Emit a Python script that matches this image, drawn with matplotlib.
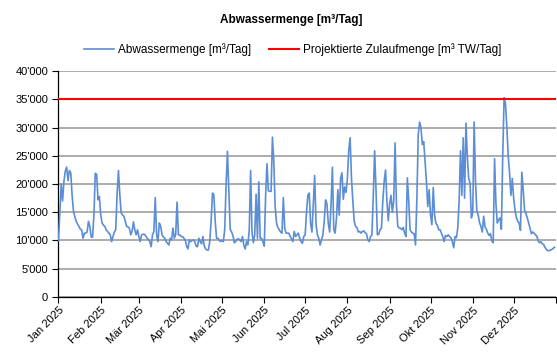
"""Tägliche Abwassermenge 2025 mit projektierter Zulaufmenge als Referenzlinie."""

import matplotlib.pyplot as plt
import pandas as pd
from matplotlib.ticker import FuncFormatter

plt.rcParams["font.family"] = ["Liberation Sans", "DejaVu Sans"]

START = "2025-01-01"

# Tageswerte Abwassermenge [m³/Tag], 1. Jan bis 31. Dez 2025
ABWASSER = [
    10000, 15000, 20000, 17000, 20500, 22300, 23000, 20600, 22400, 22000,
    18000, 15200, 14200, 13400, 12900, 12500, 12000, 11900, 10400, 11300,
    11300, 11500, 13400, 12500, 10600, 10600, 14500, 21900, 21700, 17200,
    17800, 14500, 13100, 12700, 12500, 11900, 11600, 11300, 11000, 9800,
    10700, 11500, 11900, 18100, 22400, 18100, 14900, 14500, 14300, 13400,
    12500, 12400, 12200, 11000, 11600, 13300, 11900, 11000, 11900, 10700,
    9800, 11000, 11100, 11100, 10800, 10400, 10200, 9800, 8900, 11000,
    11600, 17600, 11000, 9800, 13100, 12500, 11000, 10600, 10400, 9800,
    9500, 9200, 10400, 10100, 12200, 10400, 11000, 16800, 11000, 11000,
    10700, 10700, 10400, 10100, 9000, 8500, 10100, 9800, 10000, 10100,
    9800, 9000, 8900, 10400, 9800, 9400, 10700, 9000, 8500, 8300,
    8300, 9800, 13400, 18400, 18100, 13400, 10400, 10400, 10000, 9800,
    10000, 9800, 12000, 20000, 25800, 19000, 12000, 11500, 10900, 9600,
    9800, 10200, 10300, 10100, 9800, 10700, 9200, 8500, 9800, 9200,
    12000, 22400, 11500, 9600, 11000, 18200, 10400, 20400, 10400, 10400,
    9800, 9000, 18000, 23600, 18800, 18700, 18700, 28300, 24000, 16000,
    13100, 12300, 11900, 11500, 11300, 17600, 12200, 11300, 11300, 11300,
    10700, 10300, 9800, 11600, 10700, 11000, 11300, 10400, 9800, 9500,
    10700, 11000, 15000, 18000, 18400, 13000, 11500, 16500, 21500, 12800,
    11000, 10400, 9200, 10100, 11000, 13400, 17200, 16500, 13000, 11500,
    16300, 23000, 12000, 11300, 14000, 19000, 14500, 21000, 22000, 17300,
    19500, 18500, 21000, 26000, 28200, 21000, 17000, 13400, 12500, 12300,
    11500, 11600, 11300, 11600, 11700, 11400, 11200, 10100, 9800, 10700,
    11000, 17900, 25900, 19000, 11000, 11100, 11900, 12200, 17000, 20500,
    22500, 17000, 13500, 16500, 18000, 15000, 17000, 27300, 16300, 12500,
    12200, 12200, 11900, 12300, 11300, 10700, 21100, 17000, 11900, 11500,
    11300, 11200, 9200, 17500, 28800, 31000, 30000, 27000, 27500, 24000,
    20500, 16000, 19000, 14500, 12800, 19400, 14500, 13000, 12700, 11900,
    11900, 11300, 10700, 9800, 10900, 10700, 11000, 10700, 10500, 9800,
    8700, 10700, 10500, 12200, 17000, 25900, 18000, 28200, 17500, 30800,
    25000, 21000, 20200, 14000, 15000, 31000, 20500, 15200, 14500, 13100,
    12500, 11500, 14300, 12400, 12000, 11300, 10900, 11200, 9900, 9600,
    24500, 16500, 13100, 13700, 14000, 12000, 25000, 35300, 34300, 30200,
    25000, 22000, 18000, 21000, 17500, 15400, 14000, 13400, 13100, 11800,
    22100, 19000, 15400, 14800, 14000, 13100, 12200, 11200, 11500, 11300,
    11000, 10800, 9900, 9600, 9800, 9400, 9300, 8800, 8400, 8200,
    8200, 8300, 8400, 8600, 8800,
]

PROJEKTIERT = 35000  # m³ TW/Tag

MONATE = ["Jan", "Feb", "Mär", "Apr", "Mai", "Jun",
          "Jul", "Aug", "Sep", "Okt", "Nov", "Dez"]

BLAU = "#5B8ED6"
ROT = "#FF0000"
GRID = "#A6A6A6"


def tausender(v, _pos):
    return f"{int(v):,}".replace(",", "'")


def main():
    tage = pd.date_range(START, periods=len(ABWASSER), freq="D")

    fig = plt.figure(figsize=(5.57, 3.56), dpi=100)
    ax = fig.add_axes([0.105, 0.166, 0.893, 0.634])

    ax.plot(tage, ABWASSER, color=BLAU, lw=1.2,
            label="Abwassermenge [m³/Tag]", zorder=3)
    ax.axhline(PROJEKTIERT, color=ROT, lw=1.5,
               label="Projektierte Zulaufmenge [m³ TW/Tag]", zorder=4)

    ax.set_ylim(0, 40000)
    ax.set_yticks(range(0, 40001, 5000))
    ax.yaxis.set_major_formatter(FuncFormatter(tausender))
    ax.grid(axis="y", color=GRID, lw=1.3, zorder=1)
    ax.set_axisbelow(True)

    monatsanfang = pd.date_range("2025-01-01", "2026-01-01", freq="MS")
    ax.set_xlim(monatsanfang[0], monatsanfang[-1])
    ax.set_xticks(monatsanfang)
    ax.set_xticklabels([f"{m} 2025" for m in MONATE] + [""],
                       rotation=45, ha="right", rotation_mode="anchor")

    ax.tick_params(axis="both", labelsize=8, length=4, width=0.8,
                   direction="out", colors="black")
    ax.tick_params(axis="x", pad=2)
    for side in ("top", "right"):
        ax.spines[side].set_visible(False)
    for side in ("left", "bottom"):
        ax.spines[side].set_linewidth(0.9)

    fig.suptitle("Abwassermenge [m³/Tag]", x=0.522, y=0.962,
                 fontsize=8.5, fontweight="bold")
    fig.legend(loc="center", bbox_to_anchor=(0.525, 0.86), ncol=2,
               frameon=False, fontsize=8.5, handlelength=2.6,
               handletextpad=0.3, columnspacing=1.5)

    fig.savefig("out.png", dpi=100)


if __name__ == "__main__":
    main()
